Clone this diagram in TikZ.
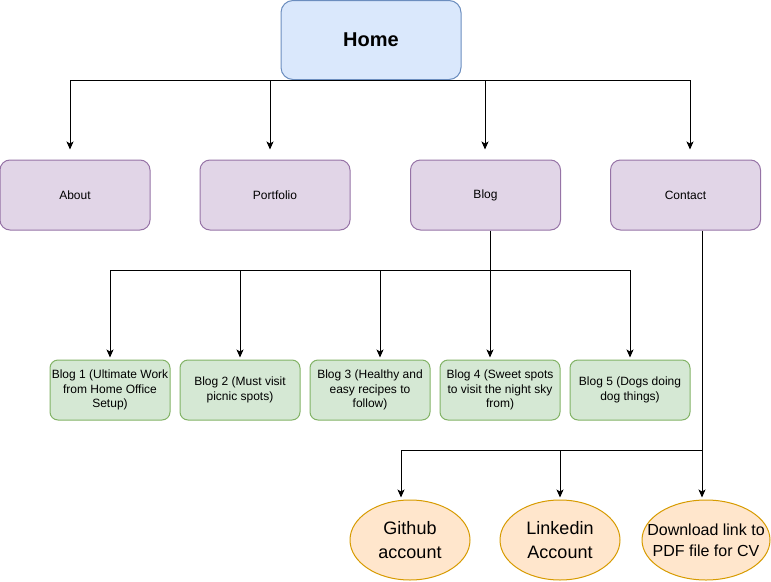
\documentclass[tikz,border=0pt]{standalone}
\usepackage{fontspec}
\setmainfont{Liberation Sans}
\usetikzlibrary{arrows.meta,shapes.geometric}
\definecolor{bluefill}{HTML}{DAE8FC}
\definecolor{blueline}{HTML}{6C8EBF}
\definecolor{purpfill}{HTML}{E1D5E7}
\definecolor{purpline}{HTML}{9673A6}
\definecolor{greenfill}{HTML}{D5E8D4}
\definecolor{greenline}{HTML}{82B366}
\definecolor{orfill}{HTML}{FFE6CC}
\definecolor{orline}{HTML}{D79B00}
\tikzset{
  homebox/.style={draw=blueline,fill=bluefill,rounded corners=12pt,minimum width=180pt,minimum height=79pt,line width=1pt,font=\fontsize{20}{24}\selectfont\bfseries},
  pagebox/.style={draw=purpline,fill=purpfill,rounded corners=10pt,minimum width=150pt,minimum height=70pt,line width=1pt,font=\fontsize{12}{14}\selectfont},
  postbox/.style={draw=greenline,fill=greenfill,rounded corners=8pt,minimum width=120pt,minimum height=60pt,line width=1pt,align=center,inner sep=1pt,font=\fontsize{12}{14.5}\selectfont},
  linkell/.style={ellipse,draw=orline,fill=orfill,minimum width=120pt,minimum height=80pt,line width=1pt,align=center,inner sep=0pt,font=\fontsize{18}{24}\selectfont},
  arr/.style={-{Stealth[length=8pt,width=7pt,inset=2pt]},line width=1pt,shorten >=10pt},
  arrb/.style={-{Stealth[length=8pt,width=7pt,inset=2pt]},line width=1pt,shorten >=2pt}
}
\begin{document}
\begin{tikzpicture}[x=1pt,y=-1pt]
\useasboundingbox (0,0) rectangle (771,581);
\node[homebox] (home) at (371,40) {Home};
\node[pagebox] (about) at (75,195) {About};
\node[pagebox] (portfolio) at (275,195) {Portfolio};
\node[pagebox] (blog) at (485.5,195) {Blog};
\node[pagebox] (contact) at (685.5,195) {Contact};

\node[postbox] (b1) at (110,390) {Blog 1 (Ultimate Work\\from Home Office\\Setup)};
\node[postbox] (b2) at (240,390) {Blog 2 (Must visit\\picnic spots)};
\node[postbox] (b3) at (370,390) {Blog 3 (Healthy and\\easy recipes to\\follow)};
\node[postbox] (b4) at (500,390) {Blog 4 (Sweet spots\\to visit the night sky\\from)};
\node[postbox] (b5) at (630,390) {Blog 5 (Dogs doing\\dog things)};

\node[linkell] (gh) at (410,540) {Github\\account};
\node[linkell] (li) at (560,540) {Linkedin\\Account};
\node[linkell,minimum width=128pt,font=\fontsize{16}{21}\selectfont] (dl) at (706,540) {\makebox[0pt]{Download link to}\\\makebox[0pt]{PDF file for CV}};

\draw[arr] (home.south) -| ([xshift=-5pt]about.north);
\draw[arr] (home.south) -| ([xshift=-5pt]portfolio.north);
\draw[arr] (home.south) -| ([xshift=-0.5pt]blog.north);
\draw[arr] (home.south) -| ([xshift=4.5pt]contact.north);

\coordinate (bj) at (490,270);
\draw[arrb] ([xshift=4.5pt]blog.south) -- (bj) -| (b1.north);
\draw[arrb] (bj) -| (b2.north);
\draw[arrb] (bj) -| ([xshift=10pt]b3.north);
\draw[arrb] (bj) -- ([xshift=-10pt]b4.north);
\draw[arrb] (bj) -| (b5.north);

\coordinate (cj) at (702,450);
\draw[arrb] ([xshift=16.5pt]contact.south) -- (cj) -| ([xshift=-9pt]gh.north);
\draw[arrb] (cj) -| (li.north);
\draw[arrb] (cj) -- ([xshift=-4pt]dl.north);
\end{tikzpicture}
\end{document}
